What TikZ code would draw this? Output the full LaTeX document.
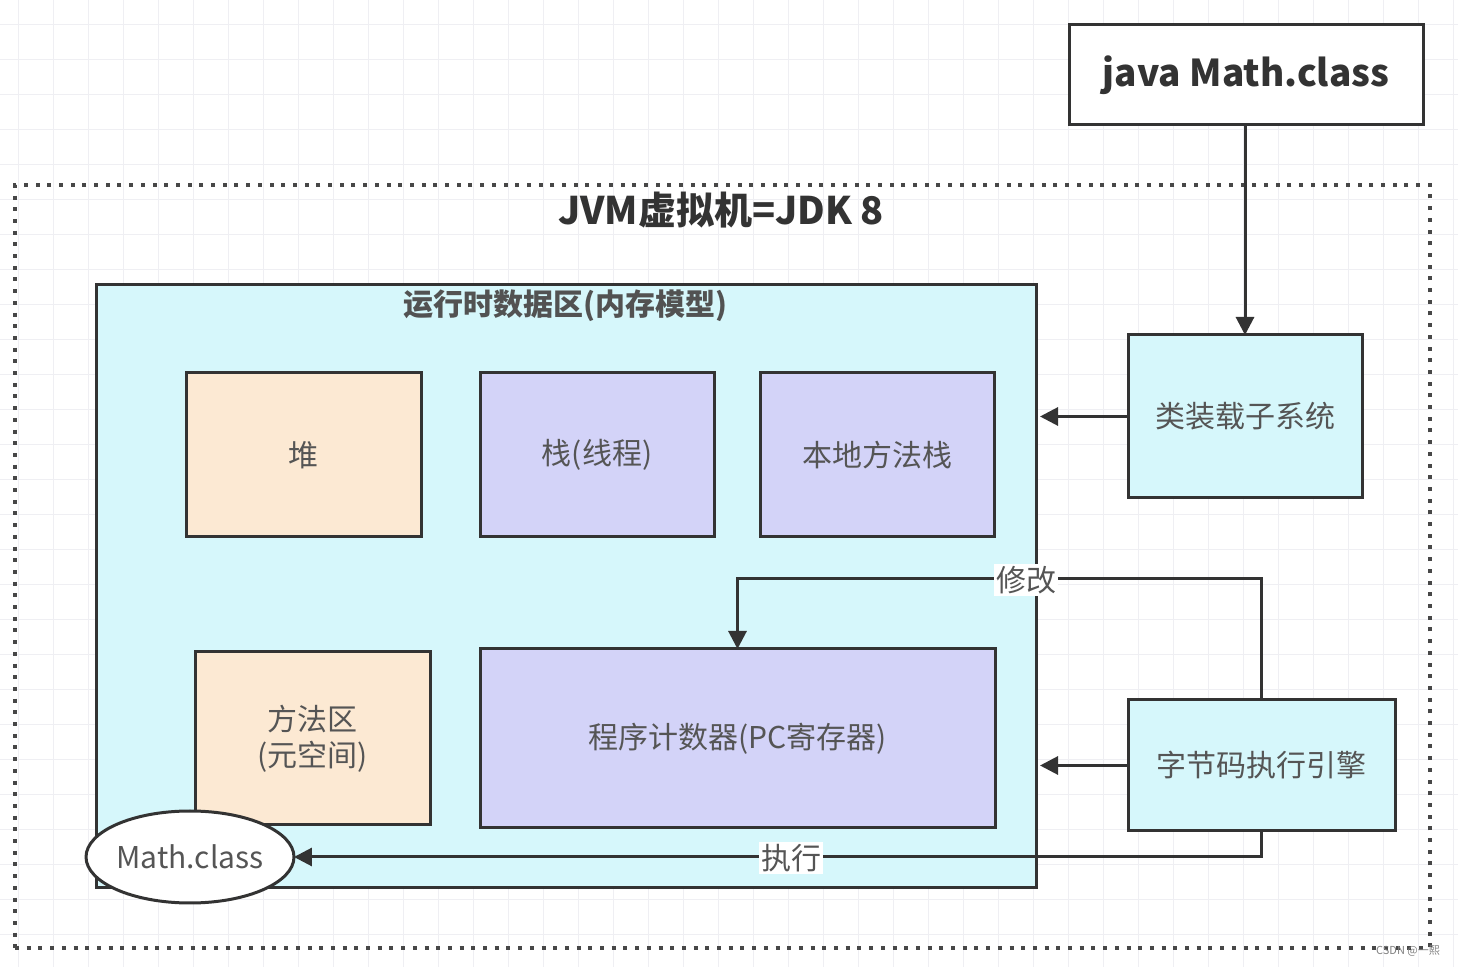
\documentclass[tikz,border=0pt]{standalone}
\usepackage{fontspec}
\setmainfont{Noto Sans CJK SC}
\usetikzlibrary{arrows.meta,shapes.geometric}
\definecolor{lc}{HTML}{333333}
\definecolor{tc}{HTML}{555555}
\definecolor{cyanf}{HTML}{D6F7FB}
\definecolor{peach}{HTML}{FCE9D3}
\definecolor{lav}{HTML}{D3D3F8}
\definecolor{gridc}{HTML}{EFEFF3}
\tikzset{
  box/.style={draw=lc, line width=1.5pt, inner sep=0pt, outer sep=0pt, font=\fontsize{15pt}{18pt}\selectfont, text=tc, align=center},
  arr/.style={draw=lc, line width=1.5pt, -{Triangle[length=9pt,width=9pt]}},
  lbl/.style={fill=white, inner sep=1pt, font=\fontsize{15pt}{18pt}\selectfont, text=tc},
  dotbox/.style={draw=lc!90, line width=2pt, dash pattern=on 2pt off 3.85pt, inner sep=0pt},
}
\begin{document}
\begin{tikzpicture}[x=0.5pt,y=-0.5pt]
\useasboundingbox (0,0) rectangle (1458,967);
\fill[white] (0,0) rectangle (1458,967);
% background grid
\foreach \gx in {18,53,...,1458} \draw[gridc, line width=0.5pt] (\gx,0) -- (\gx,967);
\foreach \gy in {25,60,...,967} \draw[gridc, line width=0.5pt] (0,\gy) -- (1458,\gy);
% JVM dotted frame
\node[dotbox, minimum width=707.5pt, minimum height=381.5pt] (jvm) at (722.5,566.5) {};
\node[font=\bfseries\fontsize{19pt}{22pt}\selectfont, text=lc] (jvmt) at (721,210) {JVM虚拟机=JDK 8};
% runtime data area
\node[box, fill=cyanf, minimum width=470pt, minimum height=301.5pt] (rt) at (566,586.5) {};
\node[font=\bfseries\fontsize{15pt}{18pt}\selectfont, text=lc!85] (rtt) at (565,306) {运行时数据区(内存模型)};
\node[box, fill=peach, minimum width=117.5pt, minimum height=82pt] (heap) at (303.5,455) {堆};
\node[box, fill=lav, minimum width=117pt, minimum height=82pt] (stack) at (597,455) {栈(线程)};
\node[box, fill=lav, minimum width=117pt, minimum height=82pt] (native) at (877,455) {本地方法栈};
\node[box, fill=peach, minimum width=117.5pt, minimum height=86.5pt] (method) at (312.5,738.5) {方法区\\(元空间)};
\node[box, fill=lav, minimum width=257.5pt, minimum height=89.5pt] (pc) at (737.5,738.5) {程序计数器(PC寄存器)};
\node[box, fill=white, ellipse, minimum width=102.5pt, minimum height=46pt] (math) at (190,857) {Math.class};
% outside boxes
\node[box, fill=white, minimum width=177pt, minimum height=50pt, font=\bfseries\fontsize{18.5pt}{21pt}\selectfont, text=lc] (jc) at (1246,75) {java Math.class};
\node[box, fill=cyanf, minimum width=117pt, minimum height=81.5pt] (loader) at (1245,416.5) {类装载子系统};
\node[box, fill=cyanf, minimum width=133.5pt, minimum height=65.5pt] (engine) at (1261.5,765.5) {字节码执行引擎};
% connectors
\coordinate (mod) at (1262,579);
\draw[arr] (jc.south -| loader.north) -- (loader.north);
\draw[arr, shorten >=2pt] (loader.west) -- (rt.east |- loader.west);
\draw[arr, shorten >=2pt] (engine.west) -- (rt.east |- engine.west);
\draw[arr] (engine.north) |- (pc.north |- mod) -- (pc.north);
\draw[arr] (engine.south) |- (math.east);
\node[lbl] (lmod) at (1026,580) {修改};
\node[lbl] (lexe) at (791,858) {执行};
\node[font=\fontsize{5.5pt}{6pt}\selectfont, text=gray] (wm) at (1408,951) {CSDN @一熙};
\end{tikzpicture}
\end{document}
